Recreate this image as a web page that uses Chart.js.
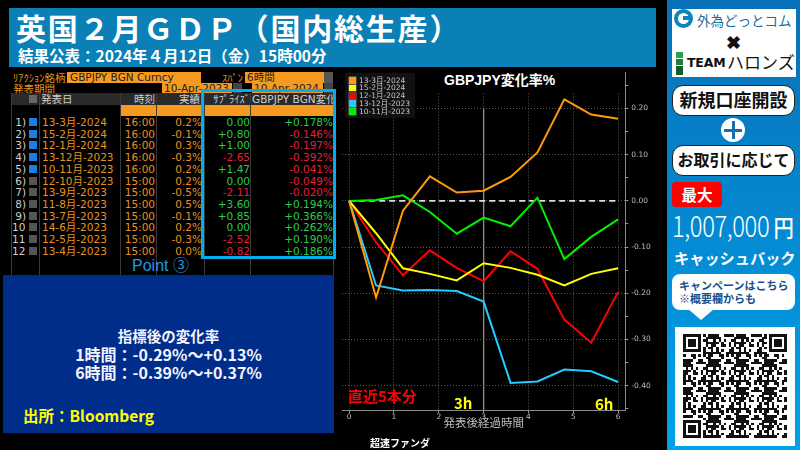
<!DOCTYPE html>
<html lang="ja">
<head>
<meta charset="utf-8">
<script src="https://cdn.jsdelivr.net/npm/chart.js@4"></script>
<style>
  html, body { margin: 0; padding: 0; background: #000; }
  #page { position: relative; width: 800px; height: 450px; overflow: hidden; background: #000;
          font-family: "Noto Sans CJK JP", "Noto Sans", sans-serif; }
  #page div { position: absolute; white-space: nowrap; }
  .t { line-height: 1; }
  .cell { font-family: "DejaVu Sans", "Noto Sans CJK JP", sans-serif; font-size: 10.5px; line-height: 12px; overflow: hidden; }
  .pill { background: #fff; border: 1.5px solid #222; border-radius: 11px; box-sizing: border-box; color: #111;
          font-weight: 700; text-align: center; }
  #chartBox { left: 340px; top: 65px; width: 320px; height: 365px; }
  .lgText { font-family: "DejaVu Sans", "Noto Sans CJK JP", sans-serif; font-size: 7.5px; line-height: 8px; color: #c8c8c8; }
</style>
</head>
<body>
<div id="page">
  <!-- title bar -->
  <div style="left:9px;top:8px;width:647px;height:59px;background:#0a80b6"></div>
  <div class="t" style="left:16px;top:8px;font-size:30px;font-weight:700;color:#fff;letter-spacing:1.8px;line-height:38px">英国２月ＧＤＰ（国内総生産）</div>
  <div class="t" style="left:18px;top:46px;font-size:15.5px;font-weight:700;color:#fff;line-height:18px">結果公表：2024年４月12日（金）15時00分</div>

  <!-- table -->
  <div id="table" style="left:0;top:0;width:340px;height:280px"></div>

  <!-- summary panel -->
  <div style="left:3px;top:275px;width:331px;height:158px;background:#002d8a"></div>
  <div class="t" style="left:3px;width:331px;top:327px;text-align:center;font-size:14.5px;font-weight:700;color:#f2f4ff;line-height:18px">指標後の変化率</div>
  <div class="t" style="left:3px;width:331px;top:345px;text-align:center;font-size:16px;font-weight:700;color:#f2f4ff;line-height:18px">1時間：-0.29%～+0.13%</div>
  <div class="t" style="left:3px;width:331px;top:363px;text-align:center;font-size:16px;font-weight:700;color:#f2f4ff;line-height:18px">6時間：-0.39%～+0.37%</div>
  <div class="t" style="left:23px;top:405px;font-size:15.5px;font-weight:700;color:#ffff00;line-height:20px">出所：Bloomberg</div>

  <!-- chart -->
  <div id="chartBox"><canvas id="rateChart" width="320" height="365"></canvas></div>
  <div class="t" style="left:416px;top:71px;width:207px;height:21px;background:#000"></div>
  <div class="t" style="left:444px;top:71px;font-size:14px;font-weight:700;color:#fff;line-height:19px;font-family:'Liberation Sans','Noto Sans CJK JP',sans-serif">GBPJPY変化率%</div>
  <div id="legendBox" style="left:345px;top:73px;width:70px;height:45px;background:#111113"></div>
  <div class="t" style="left:348px;top:386px;font-size:15px;font-weight:700;color:#ff0000;line-height:20px">直近5本分</div>
  <div class="t" style="left:454px;top:393px;font-size:15px;font-weight:700;color:#ffff00;line-height:20px">3h</div>
  <div class="t" style="left:595px;top:394px;font-size:15px;font-weight:700;color:#ffff00;line-height:20px">6h</div>
  <div class="t" style="left:370px;top:436px;font-size:10px;font-weight:700;color:#fff;line-height:14px">超速ファンダ</div>

  <!-- right panel -->
  <div style="left:667px;top:0;width:133px;height:450px;background:linear-gradient(#0870b8,#00a2ea)"></div>
  <div style="left:672px;top:9px;width:124px;height:68px;background:#fff"></div>
  <div style="left:674px;top:9px;width:11px;height:11px;border:4px solid #0a86bc;border-radius:50%"></div>
  <div style="left:683px;top:16px;width:9px;height:4px;background:#0a86bc"></div>
  <div class="t" style="left:697px;top:11px;font-size:13.5px;color:#1b6f9c;line-height:18px">外為どっとコム</div>
  <div class="t" style="left:726px;top:30px;font-size:18px;font-weight:900;color:#111;line-height:22px">✖</div>
  <div style="left:676px;top:52px;width:7px;height:6px;background:#2f9e48"></div>
  <div style="left:676px;top:59px;width:7px;height:6px;background:#1f7d38"></div>
  <div style="left:676px;top:66px;width:7px;height:9px;background:#145c28"></div>
  <div class="t" style="left:687px;top:55px;font-size:12.5px;font-weight:900;color:#111;line-height:16px;font-family:'DejaVu Sans',sans-serif;letter-spacing:-0.2px">TEAM</div>
  <div class="t" style="left:727px;top:52px;font-size:17px;color:#111;line-height:20px">ハロンズ</div>
  <div class="pill" style="left:672px;top:85px;width:123px;height:31px;font-size:18px;line-height:27px">新規口座開設</div>
  <div style="left:721px;top:118px;width:24px;height:24px;border-radius:50%;background:#fff"></div>
  <div style="left:724px;top:128.5px;width:18px;height:3px;background:#1a6fae"></div>
  <div style="left:731.5px;top:121px;width:3px;height:18px;background:#1a6fae"></div>
  <div class="pill" style="left:672px;top:145px;width:123px;height:31px;font-size:16px;line-height:27px">お取引に応じて</div>
  <div style="left:672px;top:182px;width:50px;height:25px;background:#ff0000;border-radius:4px;color:#fff;font-size:15.5px;font-weight:700;text-align:center;line-height:24px">最大</div>
  <div class="t" style="left:672px;top:209px;font-size:28px;color:#fff;line-height:32px;font-weight:300;letter-spacing:-0.5px;transform:scaleX(.85);transform-origin:left">1,007,000<span style="font-size:24px;font-weight:500"> 円</span></div>
  <div class="t" style="left:674px;top:246px;font-size:15.2px;font-weight:700;color:#fff;line-height:22px">キャッシュバック</div>
  <div style="left:672px;top:274px;width:123px;height:36px;background:#fff;border-radius:8px"></div>
  <div style="left:688px;top:309px;width:0;height:0;border-left:13px solid transparent;border-right:13px solid transparent;border-top:11px solid #fff"></div>
  <div class="t" style="left:679px;top:278px;font-size:11px;font-weight:700;color:#1a4f8a;line-height:14px">キャンペーンはこちら</div>
  <div class="t" style="left:679px;top:291px;font-size:11px;font-weight:700;color:#1a4f8a;line-height:14px">※概要欄からも</div>
  <div style="left:675px;top:327px;width:120px;height:119px;background:#fff"></div>
  <svg id="qr" style="position:absolute;left:683px;top:334px" width="104" height="104" viewBox="0 0 41 41" shape-rendering="crispEdges"></svg>
</div>

<script>
// table
const eventDates = ['13-3月-2024', '15-2月-2024', '12-1月-2024', '13-12月-2023', '10-11月-2023', '12-10月-2023',
  '13-9月-2023', '11-8月-2023', '13-7月-2023', '14-6月-2023', '12-5月-2023', '13-4月-2023']
const eventTimes = ['16:00', '16:00', '16:00', '16:00', '16:00', '15:00', '15:00', '15:00', '15:00', '15:00', '15:00', '15:00']
const actuals = ['0.2%', '-0.1%', '0.3%', '-0.3%', '0.2%', '0.2%', '-0.5%', '0.5%', '-0.1%', '0.2%', '-0.3%', '0.0%']
const surprises = ['0.00', '+0.80', '+1.00', '-2.65', '+1.47', '0.00', '-2.11', '+3.60', '+0.85', '0.00', '-2.52', '-0.82']
const changes = ['+0.178%', '-0.146%', '-0.197%', '-0.392%', '-0.041%', '-0.049%', '-0.020%', '+0.194%', '+0.366%', '+0.262%', '+0.190%', '+0.186%']
const plottedRows = 5

// chart
const hours = [0, 0.6, 1.2, 1.8, 2.4, 3, 3.6, 4.2, 4.8, 5.4, 6]
const seriesMar2024 = [0, -0.209, -0.021, 0.053, 0.018, 0.022, 0.052, 0.105, 0.22, 0.187, 0.178]
const seriesFeb2024 = [0, -0.07, -0.146, -0.158, -0.172, -0.135, -0.145, -0.16, -0.183, -0.158, -0.146]
const seriesJan2024 = [0, -0.09, -0.161, -0.107, -0.145, -0.174, -0.109, -0.147, -0.257, -0.307, -0.197]
const seriesDec2023 = [0, -0.183, -0.194, -0.193, -0.195, -0.218, -0.394, -0.391, -0.365, -0.369, -0.392]
const seriesNov2023 = [0, 0.002, 0.012, -0.024, -0.071, -0.036, -0.055, 0.007, -0.126, -0.078, -0.04]
const zeroLineX = [0, 6]
const zeroLineY = [0, 0]
const markerX = [3, 3]
const markerY = [0.2, -0.4527]

const cellOrange = '#e8921e'
const cellGreen = '#2ccb4e'
const cellRed = '#e0203c'
const table = document.getElementById('table')

function box(x, y, w, h, color, text, textCss) {
  const d = document.createElement('div')
  d.style.cssText = `left:${x}px;top:${y}px;width:${w}px;height:${h}px;background:${color};` + (textCss || '')
  if (text) d.textContent = text
  table.appendChild(d)
  return d
}

function cell(x, y, w, text, color, align) {
  const d = document.createElement('div')
  d.className = 'cell'
  d.style.cssText = `left:${x}px;top:${y}px;width:${w}px;color:${color};text-align:${align || 'right'}`
  d.textContent = text
  table.appendChild(d)
}

// control rows
cell(13, 72, 54, 'ﾘｱｸｼｮﾝ銘柄', cellOrange, 'left')
box(67, 72, 134, 11, '#f59a1f')
cell(70, 71, 130, 'GBPJPY BGN Curncy', '#222', 'left')
cell(222, 72, 24, 'ｽﾊﾟﾝ', cellOrange, 'left')
box(245, 72, 79, 11, '#f59a1f')
cell(247, 71, 70, '6時間', '#222', 'left')
box(324, 72, 9, 11, '#555')
cell(13, 83, 50, '発表期間', cellOrange, 'left')
box(162, 83, 70, 11, '#f59a1f')
cell(164, 82, 68, '10-Apr-2023', '#222', 'left')
box(233, 83, 9, 11, '#444')
box(252, 83, 71, 11, '#f59a1f')
cell(254, 82, 68, '10-Apr-2024', '#222', 'left')
box(324, 83, 9, 11, '#444')

// header
box(11, 93, 322, 12, '#2a2a2a')
box(29, 95, 8, 8, '#666')
cell(41, 93, 60, '発表日', '#cfcfcf', 'left')
cell(124, 93, 31, '時刻', '#cfcfcf')
cell(160, 93, 40, '実績', '#cfcfcf')
cell(206, 93, 44, 'ｻﾌﾟﾗｲｽﾞ', '#cfcfcf')
cell(252, 93, 82, 'GBPJPY BGN変化率', '#cfcfcf', 'left')
box(121, 105, 80, 11, '#f59a1f')
box(204, 105, 129, 11, '#f59a1f')

// column rules
const ruleX = [11, 39, 120, 156, 204, 250, 333]
ruleX.forEach((x) => box(x, 93, 1, 182, '#3a3a3a'))

eventDates.forEach((date, i) => {
  const y = 116 + i * 11.72
  const plotted = i < plottedRows
  cell(12, y, 14, (i + 1) + ')', '#cfcfcf')
  box(29, y + 2, 8, 8, plotted ? '#1a7fe0' : '#555')
  cell(42, y, 78, date, cellOrange, 'left')
  cell(122, y, 33, eventTimes[i], cellOrange)
  cell(160, y, 42, actuals[i], cellOrange)
  cell(206, y, 44, surprises[i], surprises[i].startsWith('-') ? cellRed : cellGreen)
  cell(252, y, 81, changes[i], changes[i].startsWith('-') ? cellRed : cellGreen)
})

box(201, 89, 135, 170, 'transparent', '', 'border:3.5px solid #00aeef;box-sizing:border-box')
box(132, 257, 60, 18, 'transparent', 'Point ③', 'color:#1e98e4;font-size:16px;line-height:18px;font-family:"Liberation Sans","Noto Sans CJK JP",sans-serif')

// QR-style decoration, fixed pattern
const qr = document.getElementById('qr')
let qrRects = ''
function inFinder(x, y) {
  return (x < 8 && y < 8) || (x > 32 && y < 8) || (x < 8 && y > 32)
}
function finderOn(x, y) {
  const fx = x > 32 ? x - 34 : x
  const fy = y > 32 ? y - 34 : y
  if (fx > 6 || fy > 6 || fx < 0 || fy < 0) return false
  return fx === 0 || fx === 6 || fy === 0 || fy === 6 || (fx > 1 && fx < 5 && fy > 1 && fy < 5)
}
for (let y = 0; y < 41; y++) {
  for (let x = 0; x < 41; x++) {
    const on = inFinder(x, y) ? finderOn(x, y) : ((x * x * 3 + y * y * 5 + x * y * 7 + x + y * 11) % 11 < 6)
    if (on) qrRects += `<rect x="${x}" y="${y}" width="1" height="1" fill="#111"/>`
  }
}
qr.innerHTML = qrRects

function points(xs, ys) {
  return xs.map((x, i) => ({ x: x, y: ys[i] }))
}

function series(label, values, color) {
  return { label: label, data: points(hours, values), borderColor: color, backgroundColor: color,
    borderWidth: 2, pointRadius: 0, tension: 0 }
}

const rateChart = new Chart(document.getElementById('rateChart'), {
  type: 'line',
  data: {
    datasets: [
      series('13-3月-2024', seriesMar2024, '#ff9a0a'),
      series('15-2月-2024', seriesFeb2024, '#ffff00'),
      series('12-1月-2024', seriesJan2024, '#ff0000'),
      series('13-12月-2023', seriesDec2023, '#22ccff'),
      series('10-11月-2023', seriesNov2023, '#00f000'),
      { label: 'zero', data: points(zeroLineX, zeroLineY), borderColor: '#dddddd', borderWidth: 1.8, borderDash: [6, 4], pointRadius: 0 },
      { label: 'marker', data: points(markerX, markerY), borderColor: '#8a8a8a', borderWidth: 1.4, pointRadius: 0 },
    ],
  },
  options: {
    responsive: false,
    animation: false,
    layout: { padding: { left: 2, top: 6, right: 0, bottom: 0 } },
    plugins: {
      title: { display: false },
      tooltip: { enabled: false },
      legend: { display: false },
    },
    scales: {
      x: {
        type: 'linear',
        min: -0.16,
        max: 6.16,
        afterFit: (scale) => { scale.height = 20 },
        ticks: { stepSize: 1, includeBounds: false, maxRotation: 0, padding: 0, color: '#bdbdbd',
          font: { size: 7.5, family: '"DejaVu Sans", sans-serif' } },
        grid: { color: '#5a5a5a', borderDash: [1, 2], tickLength: 3, tickColor: '#999', tickBorderDash: [] },
        border: { color: '#8a8a8a', dash: [1, 2] },
        title: { display: true, text: '発表後経過時間', color: '#bdbdbd', padding: { top: 0, bottom: 0 },
          font: { size: 11.5, family: '"Noto Sans CJK JP", sans-serif' } },
      },
      y: {
        position: 'right',
        min: -0.4527,
        max: 0.278,
        afterFit: (scale) => { scale.width = 34.7 },
        ticks: {
          stepSize: 0.05,
          includeBounds: false,
          autoSkip: false,
          padding: 3,
          color: '#bdbdbd',
          font: { size: 7.5, family: '"DejaVu Sans", sans-serif' },
          callback: (value) => (Math.round(value * 100) % 10 === 0 ? value.toFixed(2) : ''),
        },
        grid: {
          color: (c) => (Math.round(c.tick.value * 100) % 10 === 0 ? '#5a5a5a' : 'transparent'),
          tickColor: '#999',
          tickLength: 3,
          tickBorderDash: [],
        },
        border: { color: '#8a8a8a', dash: [1, 2] },
      },
    },
  },
})

// legend entries come from the chart's own datasets
const legendBox = document.getElementById('legendBox')
rateChart.data.datasets.slice(0, 5).forEach((ds, i) => {
  const swatch = document.createElement('div')
  swatch.style.cssText = `left:4px;top:${4.2 + i * 7.75}px;width:7px;height:6.5px;background:${ds.borderColor};box-shadow:0 0 0 .5px #777`
  legendBox.appendChild(swatch)
  const label = document.createElement('div')
  label.className = 'lgText'
  label.style.cssText = `left:14px;top:${3.6 + i * 7.75}px`
  label.textContent = ds.label
  legendBox.appendChild(label)
})
</script>
</body>
</html>
